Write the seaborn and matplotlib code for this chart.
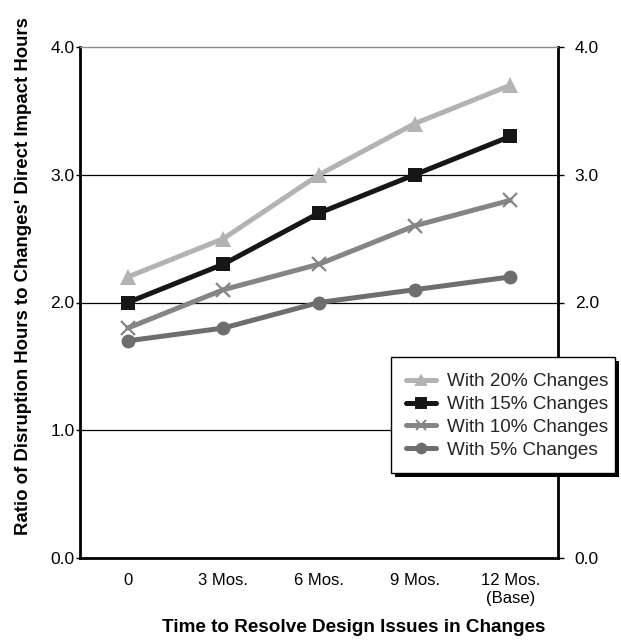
import matplotlib
matplotlib.use("Agg")
import matplotlib.pyplot as plt
from matplotlib.patches import Rectangle
import seaborn as sns
import pandas as pd

periods = ["0", "3 Mos.", "6 Mos.", "9 Mos.", "12 Mos.\n(Base)"]
series_names = ["With 20% Changes", "With 15% Changes", "With 10% Changes", "With 5% Changes"]
ratio_20 = [2.2, 2.5, 3.0, 3.4, 3.7]
ratio_15 = [2.0, 2.3, 2.7, 3.0, 3.3]
ratio_10 = [1.8, 2.1, 2.3, 2.6, 2.8]
ratio_5 = [1.7, 1.8, 2.0, 2.1, 2.2]
y_ticks = [0.0, 1.0, 2.0, 3.0, 4.0]

sns.set_theme(style="white")
plt.rcParams["font.family"] = ["Liberation Sans", "DejaVu Sans"]

rows = []
for name, vals in zip(series_names, [ratio_20, ratio_15, ratio_10, ratio_5]):
    for i, v in enumerate(vals):
        rows.append({"pos": i, "ratio": v, "series": name})
df = pd.DataFrame(rows)

palette = {series_names[0]: "#b3b3b3", series_names[1]: "#161616",
           series_names[2]: "#858585", series_names[3]: "#6e6e6e"}
markers = {series_names[0]: "^", series_names[1]: "s",
           series_names[2]: "x", series_names[3]: "o"}

W, H = 621, 640
fig = plt.figure(figsize=(W / 100, H / 100), dpi=100)
ax = fig.add_axes([80 / W, 82 / H, 478 / W, 511 / H])

for y in [1.0, 2.0, 3.0]:
    ax.axhline(y, color="black", lw=0.9, zorder=1)

# draw the lowest series first so the upper lines sit on top
for name in series_names[::-1]:
    sub = df[df["series"] == name]
    sns.lineplot(data=sub, x="pos", y="ratio", color=palette[name],
                 marker=markers[name], lw=3.6,
                 markersize=11 if markers[name] == "^" else 10,
                 markeredgewidth=1.6 if markers[name] == "x" else 0,
                 markeredgecolor=palette[name], ax=ax, legend=False, zorder=3)

ax.set_xlim(-0.5, 4.5)
ax.set_ylim(0, 4)
ax.set_xticks(range(len(periods)))
ax.set_xticklabels(periods, fontsize=12, linespacing=1.25)
ax.set_yticks(y_ticks)
ax.set_yticklabels([f"{v:.1f}" for v in y_ticks], fontsize=12.5)
ax.tick_params(axis="x", direction="out", length=4, width=1, pad=7, colors="black")
ax.tick_params(axis="y", direction="out", length=3, width=1, pad=1, colors="black")
ax.set_xlabel("Time to Resolve Design Issues in Changes", fontsize=13.6,
              fontweight="bold", color="black")
ax.xaxis.set_label_coords(0.573, -0.119)
ax.set_ylabel("Ratio of Disruption Hours to Changes' Direct Impact Hours",
              fontsize=13.4, fontweight="bold", color="black")
ax.yaxis.set_label_coords(-0.1, 0.552)

for side in ["left", "bottom", "right"]:
    ax.spines[side].set_visible(True)
    ax.spines[side].set_color("black")
    ax.spines[side].set_linewidth(2)
ax.spines["top"].set_color("#8a8a8a")
ax.spines["top"].set_linewidth(1)

ax2 = ax.twinx()
ax2.set_ylim(0, 4)
ax2.set_yticks(y_ticks)
ax2.set_yticklabels([f"{v:.1f}" for v in y_ticks], fontsize=12.5)
ax2.tick_params(axis="y", direction="out", length=4, width=1, pad=8, colors="black")
for s in ax2.spines.values():
    s.set_visible(False)
# the right-hand 1.0 label sits behind the legend box
ax2.get_yticklabels()[1].set_visible(False)

# legend box with a drop shadow, in figure pixels
box_x0, box_x1, box_top, box_bot = 391, 615, 357, 473
shadow = Rectangle(((box_x0 + 4) / W, 1 - (box_bot + 4) / H),
                   (box_x1 - box_x0) / W, (box_bot - box_top) / H,
                   transform=fig.transFigure, facecolor="black",
                   edgecolor="none", zorder=8)
frame = Rectangle((box_x0 / W, 1 - box_bot / H),
                  (box_x1 - box_x0) / W, (box_bot - box_top) / H,
                  transform=fig.transFigure, facecolor="white",
                  edgecolor="black", lw=1.0, zorder=9)
fig.patches.extend([shadow, frame])

handles = [plt.Line2D([], [], color=palette[n], lw=3.6, marker=markers[n],
                      markersize=7, markeredgewidth=1.4) for n in series_names]
leg = fig.legend(handles, series_names, loc="upper left",
                 bbox_to_anchor=(406 / W, 1 - 373 / H), fontsize=13.6,
                 frameon=False, handlelength=1.6, handletextpad=0.55,
                 labelspacing=0.3, borderpad=0, borderaxespad=0)
leg.set_zorder(10)

fig.savefig("out.png", dpi=100)
